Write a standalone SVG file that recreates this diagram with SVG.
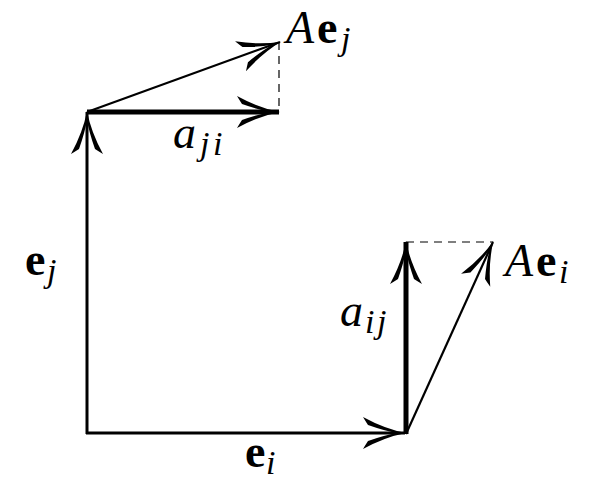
<svg xmlns="http://www.w3.org/2000/svg" width="599" height="503" viewBox="0 0 599 503">
<style>
.v{stroke:#000;fill:none;marker-end:url(#ah)}
.thin{stroke-width:2.2}
.mid{stroke-width:3}
.thick{stroke-width:5}
.d{stroke:#000;stroke-width:1.2;stroke-dasharray:8 6;fill:none}
text{font-family:"Liberation Serif","DejaVu Serif",serif;fill:#000;font-size:46px}
.it{font-style:italic}
.b{font-weight:bold}
.s{font-style:italic;font-size:34px}
</style>
<defs>
<marker id="ah" markerUnits="userSpaceOnUse" orient="auto" viewBox="-46 -20 50 40" refX="0" refY="0" markerWidth="50" markerHeight="40" overflow="visible">
<path d="M1,0 Q-20,-4 -42,-16 Q-39,-11 -37,-8 Q-20,-2 -8,0 Q-20,2 -37,8 Q-39,11 -42,16 Q-20,4 1,0 Z" fill="#000"/>
</marker>
</defs>
<rect width="599" height="503" fill="#fff"/>
<g id="connectors">
<line id="ej" class="v mid" x1="87" y1="434" x2="87" y2="112"/>
<line id="ei" class="v mid" x1="86" y1="433" x2="405" y2="433"/>
<line id="aji" class="v thick" x1="87" y1="112" x2="279" y2="112"/>
<line id="Aej" class="v thin" x1="87" y1="112" x2="280" y2="42"/>
<line id="aij" class="v thick" x1="406" y1="434" x2="406" y2="242"/>
<line id="Aei" class="v thin" x1="406" y1="434" x2="493" y2="242"/>
<line class="d" x1="279" y1="42" x2="279" y2="112"/>
<line class="d" x1="406" y1="242" x2="493" y2="242"/>
</g>
<g id="label-Aej"><text><tspan class="it" x="286" y="43">A</tspan><tspan class="b" x="317" y="43">e</tspan><tspan class="s" x="341" y="50">j</tspan></text></g>
<g id="label-aji"><text><tspan class="it" x="173" y="148">a</tspan><tspan class="s" x="200" y="155">j</tspan><tspan class="s" x="213" y="155">i</tspan></text></g>
<g id="label-ej"><text><tspan class="b" x="25" y="275">e</tspan><tspan class="s" x="47" y="282">j</tspan></text></g>
<g id="label-ei"><text><tspan class="b" x="245" y="467">e</tspan><tspan class="s" x="266" y="474">i</tspan></text></g>
<g id="label-Aei"><text><tspan class="it" x="505" y="276">A</tspan><tspan class="b" x="536" y="276">e</tspan><tspan class="s" x="559" y="283">i</tspan></text></g>
<g id="label-aij"><text><tspan class="it" x="340" y="326">a</tspan><tspan class="s" x="365" y="333">i</tspan><tspan class="s" x="377" y="333">j</tspan></text></g>
</svg>
